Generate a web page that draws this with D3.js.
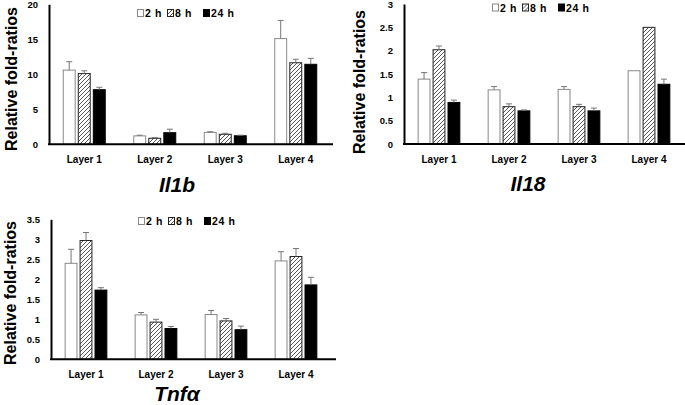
<!DOCTYPE html>
<html><head><meta charset="utf-8">
<script src="https://cdn.jsdelivr.net/npm/d3@7"></script>
<style>body{margin:0;background:#fff}svg{display:block}text{font-family:"Liberation Sans",Arial,sans-serif;font-weight:bold}</style>
</head><body><svg id="c" width="685" height="405"></svg>
<script>
const layers = ["Layer 1","Layer 2","Layer 3","Layer 4"];
const series = ["2 h","8 h","24 h"];

const il1bVals = [[10.6,1.2,1.7,15.1],[10.1,0.86,1.43,11.65],[7.8,1.66,1.22,11.43]];
const il1bErr  = [[1.2,0.1,0.1,2.6],[0.4,0.1,0.14,0.5],[0.35,0.5,0.08,0.85]];
const il1bTicks = [0,5,10,15,20];

const il18Vals = [[1.39,1.16,1.17,1.57],[2.02,0.80,0.80,2.50],[0.89,0.71,0.71,1.28]];
const il18Err  = [[0.14,0.07,0.06,0],[0.08,0.06,0.05,0],[0.05,0.02,0.06,0.11]];
const il18Ticks = [0,0.5,1,1.5,2,2.5,3];

const tnfVals = [[2.4,1.11,1.12,2.46],[2.97,0.93,0.96,2.57],[1.73,0.77,0.74,1.86]];
const tnfErr  = [[0.35,0.06,0.1,0.23],[0.2,0.07,0.06,0.2],[0.06,0.05,0.09,0.19]];
const tnfTicks = [0,0.5,1,1.5,2,2.5,3,3.5];

const svg = d3.select("#c");
const defs = svg.append("defs");
const pat = defs.append("pattern").attr("id","hatch").attr("patternUnits","userSpaceOnUse")
  .attr("width",4).attr("height",4);
pat.append("rect").attr("width",4).attr("height",4).attr("fill","#fff");
pat.append("path").attr("d","M-1,1 L1,-1 M0,4 L4,0 M3,5 L5,3").attr("stroke","#444").attr("stroke-width",0.9);

const fills = ["#fff","url(#hatch)","#000"];
const strokes = ["#888","#222","#000"];

function panel(cfg){
  const g = svg.append("g");
  const y = d3.scaleLinear().domain([0, cfg.max]).range([cfg.y0, cfg.yTop]);
  const x = d3.scaleBand().domain(layers).range([cfg.x0, cfg.x1]).paddingInner(0.39).paddingOuter(0.195);
  const xs = d3.scaleBand().domain(series).range([0, x.bandwidth()]).paddingInner(0.14);

  series.forEach((s,si)=>{
    layers.forEach((l,li)=>{
      const v = cfg.vals[si][li], e = cfg.err[si][li];
      const bx = x(l)+xs(s);
      g.append("rect").attr("x",bx+0.5).attr("y",y(v)).attr("width",xs.bandwidth()-1)
        .attr("height",y(0)-y(v)).attr("fill",fills[si]).attr("stroke",strokes[si]).attr("stroke-width",1);
      if(e>0){
        const cx = bx+xs.bandwidth()/2;
        g.append("line").attr("x1",cx).attr("x2",cx).attr("y1",y(v)).attr("y2",y(v+e)).attr("stroke","#777").attr("stroke-width",1);
        g.append("line").attr("x1",cx-3).attr("x2",cx+3).attr("y1",y(v+e)).attr("y2",y(v+e)).attr("stroke","#777").attr("stroke-width",1);
      }
    });
  });

  const ya = d3.axisLeft(y).tickValues(cfg.ticks).tickSize(0).tickPadding(11).tickFormat(d3.format("~g"));
  const yg = g.append("g").attr("transform",`translate(${cfg.x0},0)`).call(ya);
  yg.select(".domain").attr("stroke","#000").attr("stroke-width",2);
  yg.selectAll("text").attr("font-size",9.5).attr("fill","#000");
  const xa = d3.axisBottom(x).tickSize(0).tickPadding(0);
  const xg = g.append("g").attr("transform",`translate(0,${cfg.y0})`).call(xa);
  xg.select(".domain").remove();
  xg.append("line").attr("x1",cfg.x0-1).attr("x2",cfg.xEnd).attr("y1",0).attr("y2",0).attr("stroke","#000").attr("stroke-width",2);
  xg.selectAll(".tick text").attr("font-size",10).attr("fill","#000").attr("dy",null).attr("y",cfg.catDy).attr("dominant-baseline","central");

  g.append("text").attr("transform",`translate(${cfg.ytx},${cfg.yty}) rotate(-90)`)
    .attr("text-anchor","middle").attr("dominant-baseline","central").attr("font-size",16).text("Relative fold-ratios");
  g.append("text").attr("x",cfg.tx).attr("y",cfg.ty).attr("text-anchor","middle").attr("dominant-baseline","central")
    .attr("font-size",21).attr("font-style","italic").text(cfg.title);

  const lg = g.append("g").attr("transform",`translate(${cfg.lx},${cfg.ly})`);
  const offs = [0,30,66];
  series.forEach((s,si)=>{
    lg.append("rect").attr("x",offs[si]+0.5).attr("y",-3.5).attr("width",6).attr("height",7)
      .attr("fill",fills[si]).attr("stroke",strokes[si]).attr("stroke-width",1);
    lg.append("text").attr("x",offs[si]+8).attr("y",0).attr("dominant-baseline","central")
      .attr("font-size",10.5).attr("letter-spacing",0.6).text(s);
  });
}

panel({vals:il1bVals, err:il1bErr, ticks:il1bTicks, max:20, x0:49, x1:331, xEnd:333, y0:144.3, yTop:4.3,
  catDy:15, ytx:11, yty:79, tx:177, ty:184, title:"Il1b", lx:137, ly:13});
panel({vals:il18Vals, err:il18Err, ticks:il18Ticks, max:3, x0:404, x1:684, xEnd:685, y0:144, yTop:4,
  catDy:15, ytx:359, yty:82, tx:528, ty:183, title:"Il18", lx:492, ly:7.5});
panel({vals:tnfVals, err:tnfErr, ticks:tnfTicks, max:3.5, x0:51, x1:331, xEnd:336, y0:359.3, yTop:219.3,
  catDy:15, ytx:10, yty:293, tx:177, ty:393, title:"Tnfα", lx:138, ly:221});
</script></body></html>
